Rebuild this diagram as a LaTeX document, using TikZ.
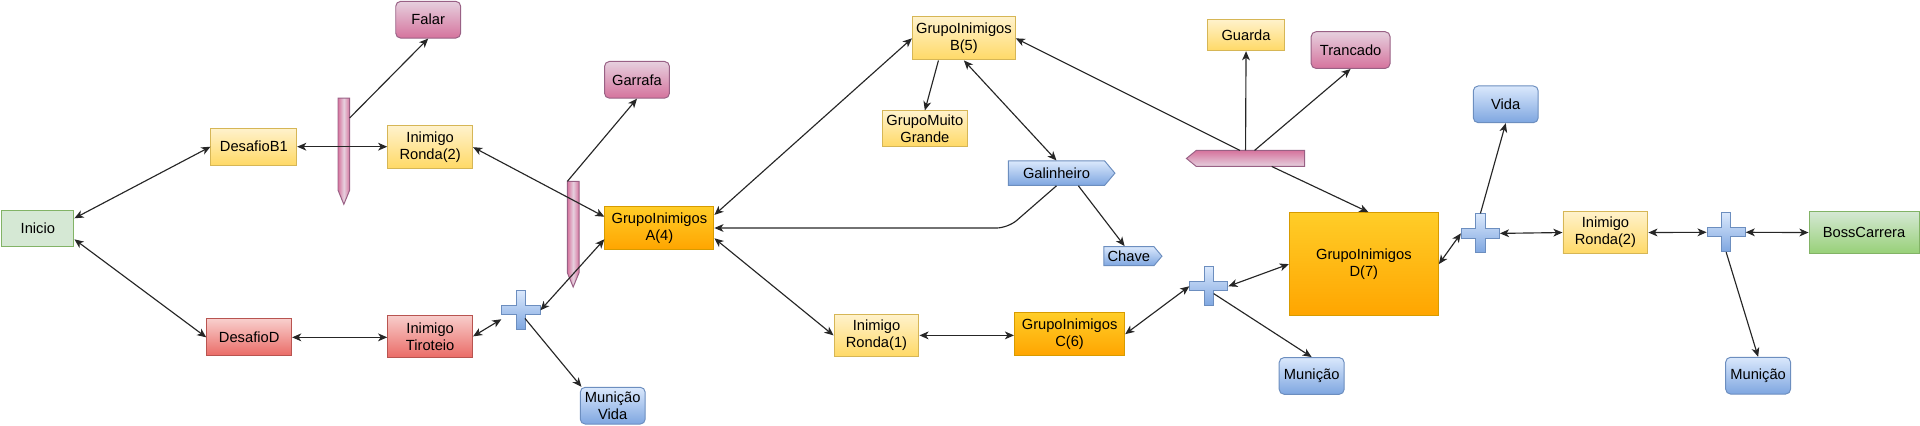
\documentclass[tikz,border=0pt]{standalone}
\usepackage{fontspec}
\setmainfont{Liberation Sans}
\usetikzlibrary{arrows.meta,shapes.symbols}
\usepackage{xcolor}
\definecolor{yeltop}{HTML}{FFF2CC}
\definecolor{yelbot}{HTML}{FFD966}
\definecolor{yelline}{HTML}{D6B656}
\definecolor{orgtop}{HTML}{FFCD28}
\definecolor{orgbot}{HTML}{FFA500}
\definecolor{orgline}{HTML}{D79B00}
\definecolor{redtop}{HTML}{F8CECC}
\definecolor{redbot}{HTML}{EA6B66}
\definecolor{redline}{HTML}{B85450}
\definecolor{bluetop}{HTML}{DAE8FC}
\definecolor{bluebot}{HTML}{7EA6E0}
\definecolor{blueline}{HTML}{6C8EBF}
\definecolor{pinktop}{HTML}{E6D0DE}
\definecolor{pinkbot}{HTML}{D5739D}
\definecolor{pinkline}{HTML}{996185}
\definecolor{grntop}{HTML}{D5E8D4}
\definecolor{grnbot}{HTML}{97D077}
\definecolor{grnline}{HTML}{82B366}

\begin{document}
\begin{tikzpicture}[x=0.75pt,y=-0.75pt]
\tikzset{box/.style = {draw, inner sep=0pt, align=center, line width=0.6pt,
		font=\fontsize{9}{10.5}\selectfont, minimum width=52pt, minimum height=26pt}}
\tikzset{yel/.style = {box, draw=yelline, top color=yeltop, bottom color=yelbot}}
\tikzset{org/.style = {box, draw=orgline, top color=orgtop, bottom color=orgbot}}
\tikzset{red/.style = {box, draw=redline, top color=redtop, bottom color=redbot}}
\tikzset{item/.style = {box, rounded corners=3pt, minimum width=39.75pt, minimum height=22.5pt}}
\tikzset{pink/.style = {item, draw=pinkline, top color=pinktop, bottom color=pinkbot}}
\tikzset{blue/.style = {item, draw=blueline, top color=bluetop, bottom color=bluebot}}
\tikzset{place/.style = {box, signal, signal to=east, signal from=nowhere, signal pointer angle=100,
		draw=blueline, top color=bluetop, bottom color=bluebot}}
\tikzset{plus/.style = {inner sep=0pt, minimum width=23.5pt, minimum height=24pt}}
\tikzset{bar/.style = {inner sep=0pt}}
\tikzset{cross/.style = {draw=blueline, line width=0.6pt, top color=bluetop, bottom color=bluebot}}
\tikzset{pinkbar/.style = {draw=pinkline, line width=0.6pt}}
\tikzset{edge/.style = {->, > = {Stealth[length=5.6pt,width=4.8pt,inset=1.6pt]},
		line width=0.7pt, draw=black!85}}
\tikzset{twoway/.style = {edge, <->}}
\useasboundingbox (0,0) rectangle (1568,347.9);
% vertices
\node[box, draw=grnline, fill=grntop, minimum width=44.25pt, minimum height=22.1pt] (ini) at (30.9,186.8) {Inicio};
\node[yel, minimum width=52.5pt, minimum height=22.5pt] (db1) at (207.3,119.8) {DesafioB1};
\node[red, minimum width=52pt, minimum height=22.5pt] (dd) at (203.5,275.5) {DesafioD};
\node[pink] (falar) at (349.7,16.1) {Falar};
\node[bar, minimum width=6.75pt, minimum height=64.7pt] (bar1) at (280.8,123.45) {};
\node[yel] (r2a) at (351.3,120.2) {Inimigo\\Ronda(2)};
\node[red] (tir) at (351.3,274.7) {Inimigo\\Tiroteio};
\node[plus] (p1) at (425.4,253.4) {};
\node[bar, minimum width=6.75pt, minimum height=64.3pt] (bar2) at (468.1,191.25) {};
\node[pink] (garrafa) at (520.2,65.2) {Garrafa};
\node[blue] (mv) at (500.4,331.3) {Munição\\Vida};
\node[org, minimum width=66.8pt] (ga) at (538.5,186.2) {GrupoInimigos\\A(4)};
\node[yel, minimum width=63pt, minimum height=26.5pt] (gb) at (787.2,31.3) {GrupoInimigos\\B(5)};
\node[yel, minimum width=52.1pt, minimum height=21.9pt] (gmg) at (755.3,105.2) {GrupoMuito\\Grande};
\node[place, minimum width=65.3pt, minimum height=14.9pt] (gal) at (862.8,141.4) {Galinheiro};
\node[place, minimum width=35.6pt, minimum height=11.7pt] (chave) at (921.9,209.2) {Chave};
\node[yel] (r1) at (715.8,273.9) {Inimigo\\Ronda(1)};
\node[org, minimum width=67.5pt] (gc) at (873.5,272.9) {GrupoInimigos\\C(6)};
\node[plus] (p2) at (987.2,233.8) {};
\node[bar, minimum width=72pt, minimum height=9.4pt] (hbar) at (1017.2,129.4) {};
\node[yel, minimum width=47.4pt, minimum height=19.2pt] (guarda) at (1017.6,28.6) {Guarda};
\node[pink, minimum width=48.3pt] (trancado) at (1103,40.9) {Trancado};
\node[org, minimum width=91.3pt, minimum height=63.1pt] (gd) at (1113.8,215.7) {GrupoInimigos\\D(7)};
\node[blue] (mun1) at (1071.2,307) {Munição};
\node[plus] (p3) at (1209,190.6) {};
\node[blue] (vida) at (1229.7,85.2) {Vida};
\node[yel] (r2b) at (1311.1,189.9) {Inimigo\\Ronda(2)};
\node[plus] (p4) at (1409.7,189.7) {};
\node[box, draw=grnline, top color=grntop, bottom color=grnbot, minimum width=67.4pt] (boss) at (1522.3,189.9) {BossCarrera};
\node[blue] (mun2) at (1435.8,306.8) {Munição};

% crosses and bars
\foreach \p in {p1,p2,p3,p4}
	\draw[cross] ([shift={(-2.85pt,-12pt)}]\p.center) -- ++(5.7pt,0) -- ++(0,9.15pt) -- ++(8.85pt,0)
		-- ++(0,5.7pt) -- ++(-8.85pt,0) -- ++(0,9.15pt) -- ++(-5.7pt,0) -- ++(0,-9.15pt)
		-- ++(-8.85pt,0) -- ++(0,-5.7pt) -- ++(8.85pt,0) -- cycle;
\foreach \b in {bar1,bar2}
	\draw[pinkbar, left color=pinkbot, right color=pinkbot, middle color=pinktop]
		(\b.north west) -- (\b.north east) -- ([yshift=8.7pt]\b.south east) -- (\b.south)
		-- ([yshift=8.7pt]\b.south west) -- cycle;
\draw[pinkbar, top color=pinkbot, bottom color=pinktop]
	(hbar.north east) -- (hbar.south east) -- ([xshift=6pt]hbar.south west) -- (hbar.west)
	-- ([xshift=6pt]hbar.north west) -- cycle;

%edges
\coordinate (bend) at (823.2,186.2);
\draw[twoway] ([yshift=6.4pt]ini.east) to (db1.west);
\draw[twoway] ([yshift=-6.5pt]ini.east) to (dd.west);
\draw[twoway] (db1.east) to (db1.east -| r2a.west);
\draw[edge] ([yshift=-12.2pt]bar1.north east) to (falar.south);
\draw[twoway] (r2a.east) to ([yshift=6.9pt]ga.west);
\draw[edge] (bar2.north west) to (garrafa.south);
\draw[twoway] (dd.east) to (dd.east -| tir.west);
\draw[twoway] (tir.east) to ([yshift=-5.5pt]p1.west);
\draw[twoway] (p1.east) to ([yshift=-6.9pt]ga.west);
\draw[edge] ([xshift=2.5pt,yshift=-5pt]p1.center) to ([xshift=1pt]mv.north west);

\draw[twoway] ([yshift=8pt]ga.east) to (gb.west);
\draw[edge] ([xshift=-15.6pt]gb.south) to (gmg.north);
\draw[twoway] (gb.south) to (gal.north);
\draw[edge, rounded corners=7pt] (gal.south) -- (bend) -- (ga.east);
\draw[edge] ([xshift=13.4pt]gal.south) to ([xshift=-2.6pt]chave.north);
\draw[twoway] ([yshift=-6.3pt]ga.east) to (r1.west);
\draw[twoway] (r1.east) to (r1.east -| gc.west);
\draw[twoway] (gc.east) to (p2.west);

\draw[twoway] (p2.east) to (gd.west);
\draw[edge] ([xshift=3pt,yshift=-4.5pt]p2.center) to (mun1.north);
\draw[edge] ([xshift=-3.4pt]hbar.north) to (gb.east);
\draw[edge] (hbar.north) to (guarda.south);
\draw[edge] ([xshift=5.5pt]hbar.north) to (trancado.south);
\draw[edge] ([xshift=16pt]hbar.south) to ([xshift=2.8pt]gd.north);
\draw[twoway] (gd.east) to (p3.west);
\draw[edge] (p3.north) to (vida.south);
\draw[twoway] (p3.east) to (r2b.west);
\draw[twoway] (r2b.east) to (p4.west);
\draw[twoway] (p4.east) to (boss.west);
\draw[edge] (p4.south) to (mun2.north);
\end{tikzpicture}
\end{document}
